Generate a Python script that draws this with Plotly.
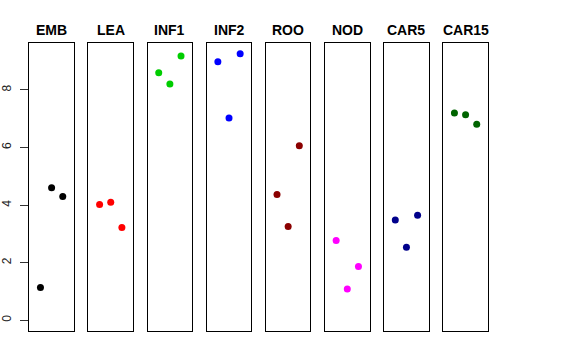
import plotly.graph_objects as go

tissues = ["EMB", "LEA", "INF1", "INF2", "ROO", "NOD", "CAR5", "CAR15"]
colors = ["#000000", "#FF0000", "#00CD00", "#0000FF", "#8B0000", "#FF00FF", "#00008B", "#006400"]
replicate = [1, 2, 3]
emb = [1.14, 4.60, 4.30]
lea = [4.02, 4.10, 3.22]
inf1 = [8.60, 8.21, 9.18]
inf2 = [8.98, 7.03, 9.26]
roo = [4.37, 3.26, 6.06]
nod = [2.77, 1.09, 1.87]
car5 = [3.48, 2.54, 3.65]
car15 = [7.20, 7.14, 6.81]
values = [emb, lea, inf1, inf2, roo, nod, car5, car15]
y_ticks = [0, 2, 4, 6, 8]

W, H = 576, 360
left0, step, pw = 29.3, 59.14, 44.6
top, bottom = 43, 331
title_y = 30

ymin, ymax = 0, max(max(v) for v in values)
ext = 0.04 * (ymax - ymin)
yrange = [ymin - ext, ymax + ext]

fig = go.Figure()
for i, (name, col, vals) in enumerate(zip(tissues, colors, values)):
    sfx = "" if i == 0 else str(i + 1)
    x0 = (left0 + i * step) / W
    x1 = (left0 + i * step + pw) / W
    fig.add_trace(go.Scatter(x=replicate, y=vals, mode="markers",
                             marker=dict(color=col, size=7),
                             xaxis="x" + sfx, yaxis="y" + sfx, showlegend=False))
    fig.layout["xaxis" + sfx] = dict(domain=[x0, x1], range=[0, 4], showgrid=False,
                                     zeroline=False, showticklabels=False, ticks="",
                                     showline=True, mirror=True, linecolor="#000000",
                                     linewidth=1, anchor="y" + sfx, automargin=False)
    yax = dict(domain=[1 - bottom / H, 1 - top / H], range=yrange, showgrid=False,
               zeroline=False, showline=True, mirror=True, linecolor="#000000",
               linewidth=1, anchor="x" + sfx, automargin=False)
    if i == 0:
        yax.update(tickmode="array", tickvals=y_ticks, ticktext=[str(t) for t in y_ticks],
                   ticks="outside", ticklen=8, tickcolor="#333333", tickwidth=1,
                   tickangle=-90, ticklabelstandoff=5,
                   tickfont=dict(family="Liberation Sans, Arial", size=12, color="#222222"))
    else:
        yax.update(showticklabels=False, ticks="")
    fig.layout["yaxis" + sfx] = yax
    fig.add_annotation(text="<b>" + name + "</b>", x=(x0 + x1) / 2, y=1 - title_y / H,
                       xref="paper", yref="paper", showarrow=False,
                       xanchor="center", yanchor="middle",
                       font=dict(family="Liberation Sans, Arial", size=14, color="#000000"))

fig.update_layout(width=W, height=H, margin=dict(l=0, r=0, t=0, b=0, autoexpand=False),
                  plot_bgcolor="white", paper_bgcolor="white")
fig.write_html("out.html", config={"displayModeBar": False},
               post_script="document.body.style.margin='0';")
